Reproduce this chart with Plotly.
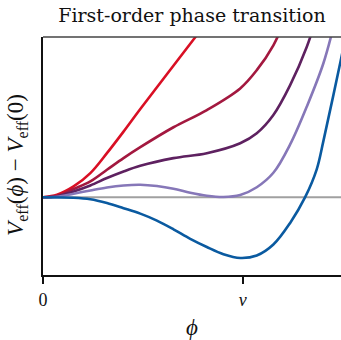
import plotly.graph_objects as go

# x in units of v, y in arbitrary potential units
red_x = [0, 0.07, 0.153, 0.237, 0.32, 0.403, 0.487, 0.762, 0.837]
red_y = [0, 0.025, 0.108, 0.242, 0.442, 0.658, 0.885, 1.605, 1.805]

crimson_x = [0, 0.07, 0.153, 0.237, 0.32, 0.403, 0.487, 0.653, 0.82, 0.987, 1.07, 1.153, 1.227]
crimson_y = [0, 0.012, 0.082, 0.158, 0.275, 0.392, 0.502, 0.702, 0.875, 1.092, 1.275, 1.525, 1.855]

purple_x = [0, 0.07, 0.153, 0.237, 0.32, 0.403, 0.487, 0.653, 0.82, 0.987, 1.07, 1.153, 1.237, 1.32, 1.377]
purple_y = [0, 0.01, 0.058, 0.118, 0.192, 0.258, 0.315, 0.392, 0.442, 0.542, 0.642, 0.825, 1.125, 1.508, 1.855]

lav_x = [0, 0.07, 0.153, 0.237, 0.32, 0.403, 0.487, 0.57, 0.653, 0.737, 0.82, 0.903, 0.987, 1.07, 1.153, 1.237, 1.32, 1.403, 1.462]
lav_y = [0, 0.005, 0.035, 0.068, 0.098, 0.118, 0.125, 0.112, 0.085, 0.045, 0.015, 0.002, 0.022, 0.1, 0.245, 0.53, 0.908, 1.342, 1.775]

blue_x = [0, 0.153, 0.237, 0.32, 0.403, 0.487, 0.57, 0.653, 0.737, 0.82, 0.903, 0.987, 1.07, 1.153, 1.237, 1.312, 1.37, 1.403, 1.487, 1.55]
blue_y = [0, -0.005, -0.02, -0.058, -0.11, -0.165, -0.235, -0.322, -0.418, -0.5, -0.572, -0.61, -0.585, -0.475, -0.258, 0, 0.28, 0.56, 1.342, 1.95]

zero_x = [0, 1.6]
zero_y = [0, 0]

tick_vals = [0, 1]
tick_text = ["0", "<i>v</i>"]

series = [
    (red_x, red_y, "#d90f24"),
    (crimson_x, crimson_y, "#a3183f"),
    (purple_x, purple_y, "#5e2160"),
    (lav_x, lav_y, "#8677b8"),
    (blue_x, blue_y, "#0a5aa0"),
]

fig = go.Figure()
fig.add_trace(go.Scatter(x=zero_x, y=zero_y, mode="lines",
                         line=dict(color="#a0a0a0", width=2), showlegend=False, hoverinfo="skip"))
for xs, ys, c in series:
    fig.add_trace(go.Scatter(x=xs, y=ys, mode="lines",
                             line=dict(color=c, width=2.6, shape="spline", smoothing=1.0),
                             showlegend=False))

serif = "DejaVu Serif"
serif2 = "Liberation Serif"
fig.update_layout(
    width=341, height=340,
    margin=dict(l=43, r=0, t=37, b=65),
    paper_bgcolor="white", plot_bgcolor="white",
    title=dict(text="First-order phase transition", x=0.563, xanchor="center",
               y=0.956, yanchor="middle", font=dict(family=serif, size=19, color="#111")),
    xaxis=dict(range=[0, 1.4915], showgrid=False, zeroline=False, automargin=False,
               showline=True, linecolor="#111", linewidth=2,
               ticks="outside", ticklen=7, tickwidth=1.5, tickcolor="#111",
               tickvals=tick_vals, ticktext=tick_text,
               tickfont=dict(family=serif2, size=18, color="#111"),
               title=dict(text="<i>ϕ</i>", font=dict(family=serif2, size=23, color="#111"), standoff=10)),
    yaxis=dict(range=[-0.781, 1.608], showgrid=False, zeroline=False, automargin=False,
               showline=True, linecolor="#111", linewidth=2, showticklabels=False, ticks=""),
    annotations=[dict(text="<i>V</i><sub>eff</sub>(<i>ϕ</i>) − <i>V</i><sub>eff</sub>(0)",
                      xref="paper", yref="paper", x=-0.087, y=0.463,
                      xanchor="center", yanchor="middle", textangle=-90, showarrow=False,
                      font=dict(family=serif2, size=23, color="#111"))],
    shapes=[dict(type="line", xref="paper", yref="paper", x0=0, x1=1, y0=1, y1=1,
                 line=dict(color="#444", width=1.5))],
)

fig.write_html("out.html", config={"displayModeBar": False},
               post_script="document.body.style.margin='0';document.body.style.overflow='hidden';")
